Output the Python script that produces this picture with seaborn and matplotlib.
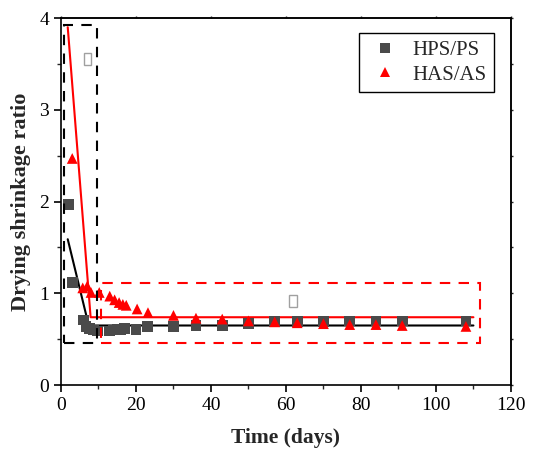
import matplotlib
matplotlib.use("Agg")
import matplotlib.pyplot as plt
import seaborn as sns
import pandas as pd
from matplotlib.patches import Rectangle
from matplotlib.ticker import MultipleLocator

sns.set_theme(style="white")
plt.rcParams['font.family'] = ['Liberation Serif', 'DejaVu Serif']

# HPS/PS (squares)
hps_days = [2, 3, 6, 6.7, 7.6, 8.6, 9.7, 13, 14, 15, 16, 17, 20, 23, 30, 36, 43, 50, 57, 63, 70, 77, 84, 91, 108]
hps_vals = [1.97, 1.12, 0.71, 0.64, 0.62, 0.60, 0.59, 0.59, 0.60, 0.61, 0.61, 0.62, 0.61, 0.64, 0.64, 0.65, 0.65, 0.67, 0.69, 0.69, 0.69, 0.70, 0.70, 0.70, 0.70]
# HAS/AS (triangles)
has_days = [3, 5.8, 7, 8, 10.2, 13, 14.3, 15.5, 16.5, 17.4, 20.3, 23.2, 30, 36, 43, 50, 57, 63, 70, 77, 84, 91, 108]
has_vals = [2.47, 1.06, 1.08, 1.01, 1.01, 0.97, 0.93, 0.90, 0.88, 0.87, 0.83, 0.79, 0.76, 0.73, 0.72, 0.70, 0.69, 0.68, 0.67, 0.66, 0.66, 0.65, 0.64]
# fitted trend lines
hps_fit_x = [1.8, 7.4, 110]
hps_fit_y = [1.59, 0.65, 0.65]
has_fit_x = [1.8, 7.9, 110]
has_fit_y = [3.90, 0.74, 0.74]

df = pd.concat([
    pd.DataFrame({"day": hps_days, "ratio": hps_vals, "group": "HPS/PS"}),
    pd.DataFrame({"day": has_days, "ratio": has_vals, "group": "HAS/AS"}),
])

fig = plt.figure(figsize=(5.35, 4.51), dpi=100)
ax = fig.add_axes([0.114, 0.146, 0.841, 0.814])

ax.plot(hps_fit_x, hps_fit_y, color="black", lw=1.5, zorder=2)
ax.plot(has_fit_x, has_fit_y, color="#ff0000", lw=1.5, zorder=2)

sns.scatterplot(data=df, x="day", y="ratio", hue="group", style="group",
                palette={"HPS/PS": "#4a4a4a", "HAS/AS": "#ff0000"},
                markers={"HPS/PS": "s", "HAS/AS": "^"},
                s=60, linewidth=0, ax=ax, zorder=3)

# dashed highlight boxes
ax.add_patch(Rectangle((0.8, 0.455), 8.7, 3.465, fill=False, ls=(0, (5, 4)),
                       ec="black", lw=1.5, zorder=4))
ax.add_patch(Rectangle((10.7, 0.455), 101.0, 0.655, fill=False, ls=(0, (5, 4)),
                       ec="#ff0000", lw=1.5, zorder=4))
# small empty-glyph boxes
ax.add_patch(Rectangle((6.1, 3.49), 2.0, 0.13, fill=False, ec="#a0a0a0", lw=1.0, zorder=4))
ax.add_patch(Rectangle((60.9, 0.855), 2.0, 0.13, fill=False, ec="#a0a0a0", lw=1.0, zorder=4))

ax.set_xlim(0, 120)
ax.set_ylim(0, 4)
ax.xaxis.set_major_locator(MultipleLocator(20))
ax.xaxis.set_minor_locator(MultipleLocator(10))
ax.yaxis.set_major_locator(MultipleLocator(1))
ax.yaxis.set_minor_locator(MultipleLocator(0.5))
ax.tick_params(which="major", direction="out", length=5, width=1.2, labelsize=14,
               bottom=True, left=True, top=False, right=False, colors="black")
ax.tick_params(which="minor", direction="out", length=3, width=1.0,
               bottom=True, left=True, top=False, right=False)

# tiny mirrored ticks on top / right
sx = ax.secondary_xaxis("top")
sx.xaxis.set_major_locator(MultipleLocator(20))
sx.tick_params(which="major", direction="out", length=1.5, width=1.0, labeltop=False)
sx.spines["top"].set_linewidth(1.2)
sy = ax.secondary_yaxis("right")
sy.yaxis.set_major_locator(MultipleLocator(0.5))
sy.tick_params(which="major", direction="out", length=1.5, width=1.0, labelright=False)
sy.spines["right"].set_linewidth(1.2)

for sp in ax.spines.values():
    sp.set_color("black")
    sp.set_linewidth(1.2)

ax.set_xlabel("Time (days)", fontsize=15.5, fontweight="bold", labelpad=10)
ax.set_ylabel("Drying shrinkage ratio", fontsize=16, fontweight="bold", labelpad=6)

leg = ax.legend(loc="upper right", bbox_to_anchor=(0.962, 0.959), fontsize=15,
                frameon=True, fancybox=False, edgecolor="black", framealpha=1,
                borderpad=0.35, handletextpad=0.4, labelspacing=0.25,
                handlelength=1.8, borderaxespad=0)
leg.get_frame().set_linewidth(1.0)
leg.set_title(None)

fig.savefig("out.png", dpi=100)
